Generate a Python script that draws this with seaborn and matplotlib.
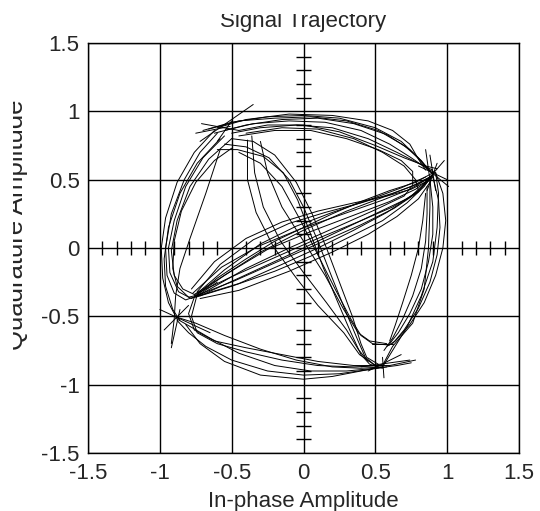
import numpy as np
import pandas as pd
import matplotlib
matplotlib.use("Agg")
import matplotlib.pyplot as plt
from matplotlib.patches import Rectangle
import seaborn as sns

sns.set_theme(style="white")
plt.rcParams['font.family'] = ['Liberation Sans', 'DejaVu Sans']

title = "Signal Trajectory"
xlabel = "In-phase Amplitude"
ylabel = "Quadrature Amplitude"
major_ticks = [-1.5, -1.0, -0.5, 0.0, 0.5, 1.0, 1.5]
tick_labels = ["-1.5", "-1", "-0.5", "0", "0.5", "1", "1.5"]

# Trajectory strokes, (in-phase, quadrature)
top_arc = [
    [(-0.70, 0.86), (-0.5, 0.92), (-0.25, 0.96), (0.0, 0.97), (0.25, 0.95), (0.5, 0.88), (0.68, 0.78), (0.80, 0.66), (0.88, 0.56)],
    [(-0.62, 0.84), (-0.4, 0.90), (-0.15, 0.94), (0.1, 0.95), (0.35, 0.91), (0.58, 0.83), (0.74, 0.72), (0.83, 0.62), (0.90, 0.54)],
    [(-0.55, 0.86), (-0.35, 0.91), (-0.1, 0.93), (0.15, 0.92), (0.4, 0.86), (0.6, 0.76), (0.75, 0.66), (0.86, 0.58), (0.92, 0.55)],
    [(-0.5, 0.84), (-0.3, 0.88), (-0.05, 0.9), (0.2, 0.88), (0.45, 0.8), (0.65, 0.7), (0.8, 0.62), (0.9, 0.57)],
    [(-0.45, 0.86), (-0.25, 0.9), (0.0, 0.9), (0.25, 0.85), (0.5, 0.75), (0.7, 0.66), (0.85, 0.6), (0.93, 0.58)],
    [(-0.6, 0.88), (-0.4, 0.94), (-0.1, 0.98), (0.2, 0.97), (0.45, 0.93), (0.62, 0.86), (0.74, 0.76), (0.8, 0.65), (0.85, 0.57)],
    [(-0.66, 0.87), (-0.45, 0.93), (-0.2, 0.95), (0.05, 0.96), (0.3, 0.93), (0.52, 0.86), (0.7, 0.75), (0.82, 0.64), (0.89, 0.55)],
    [(-0.45, 0.82), (-0.2, 0.86), (0.05, 0.86), (0.3, 0.8), (0.52, 0.72), (0.68, 0.64), (0.76, 0.56), (0.76, 0.46),
     (0.7, 0.38), (0.5, 0.28), (0.2, 0.14), (-0.1, 0.0), (-0.4, -0.15), (-0.65, -0.3), (-0.75, -0.36)],
    [(-0.4, 0.84), (-0.15, 0.88), (0.1, 0.87), (0.35, 0.8), (0.55, 0.7), (0.7, 0.6), (0.78, 0.5), (0.8, 0.42),
     (0.72, 0.36), (0.5, 0.25), (0.2, 0.1), (-0.1, -0.05), (-0.45, -0.22), (-0.72, -0.35)],
]

band = [
    [(-0.76, -0.36), (-0.6, -0.22), (-0.4, -0.08), (-0.2, 0.05), (0.0, 0.15), (0.2, 0.25), (0.4, 0.34), (0.6, 0.42), (0.78, 0.48), (0.9, 0.55)],
    [(-0.74, -0.34), (-0.55, -0.2), (-0.3, -0.03), (0.0, 0.13), (0.3, 0.27), (0.55, 0.37), (0.75, 0.45), (0.88, 0.52)],
    [(-0.76, -0.35), (-0.55, -0.16), (-0.3, 0.03), (-0.05, 0.16), (0.2, 0.26), (0.45, 0.35), (0.68, 0.44), (0.85, 0.52)],
    [(-0.74, -0.32), (-0.58, -0.12), (-0.35, 0.06), (-0.1, 0.18), (0.15, 0.26), (0.4, 0.33), (0.62, 0.4), (0.8, 0.47), (0.9, 0.53)],
    [(-0.75, -0.36), (-0.5, -0.28), (-0.2, -0.17), (0.05, -0.06), (0.3, 0.07), (0.55, 0.2), (0.72, 0.33), (0.84, 0.45), (0.9, 0.54)],
    [(-0.73, -0.35), (-0.45, -0.26), (-0.15, -0.12), (0.1, 0.0), (0.35, 0.13), (0.58, 0.26), (0.75, 0.38), (0.87, 0.5)],
    [(-0.74, -0.33), (-0.5, -0.21), (-0.2, -0.07), (0.1, 0.07), (0.4, 0.2), (0.62, 0.3), (0.78, 0.4), (0.88, 0.5)],
    [(-0.76, -0.34), (-0.52, -0.18), (-0.25, -0.01), (0.05, 0.12), (0.35, 0.24), (0.6, 0.34), (0.78, 0.43), (0.9, 0.52)],
    [(-0.72, -0.37), (-0.45, -0.31), (-0.1, -0.17), (0.2, -0.03), (0.45, 0.1), (0.65, 0.23), (0.8, 0.36), (0.88, 0.48)],
    [(-0.78, -0.3), (-0.62, -0.1), (-0.4, 0.07), (-0.15, 0.19), (0.1, 0.27), (0.35, 0.33), (0.58, 0.38), (0.75, 0.43), (0.88, 0.5)],
    [(-0.75, -0.35), (-0.48, -0.24), (-0.18, -0.1), (0.12, 0.04), (0.4, 0.17), (0.63, 0.29), (0.8, 0.41), (0.89, 0.53)],
    [(-0.77, -0.33), (-0.57, -0.14), (-0.32, 0.01), (-0.02, 0.14), (0.28, 0.25), (0.55, 0.35), (0.74, 0.43), (0.87, 0.51)],
]

left_arc = [
    [(-0.6, 0.84), (-0.72, 0.7), (-0.83, 0.5), (-0.92, 0.25), (-0.96, 0.0), (-0.95, -0.2), (-0.9, -0.33), (-0.82, -0.38), (-0.74, -0.35), (-0.6, -0.25)],
    [(-0.55, 0.82), (-0.7, 0.66), (-0.82, 0.45), (-0.9, 0.2), (-0.94, 0.0), (-0.93, -0.18), (-0.87, -0.32), (-0.78, -0.37), (-0.7, -0.33)],
    [(-0.5, 0.8), (-0.66, 0.65), (-0.79, 0.45), (-0.88, 0.2), (-0.92, -0.02), (-0.9, -0.2), (-0.84, -0.3), (-0.76, -0.34)],
    [(-0.62, 0.86), (-0.76, 0.7), (-0.88, 0.48), (-0.96, 0.22), (-0.99, 0.0), (-0.98, -0.22), (-0.94, -0.4), (-0.88, -0.52)],
    [(-0.58, 0.8), (-0.74, 0.62), (-0.86, 0.4), (-0.94, 0.15), (-0.97, -0.08), (-0.96, -0.28), (-0.91, -0.45), (-0.86, -0.53)],
    [(-0.5, 0.73), (-0.62, 0.64), (-0.75, 0.48), (-0.85, 0.27), (-0.9, 0.05), (-0.91, -0.15), (-0.88, -0.28), (-0.8, -0.36), (-0.72, -0.34)],
    [(-0.58, 0.72), (-0.68, 0.4), (-0.79, 0.07), (-0.86, -0.15), (-0.89, -0.35), (-0.9, -0.52), (-0.92, -0.7)],
]

lens = [
    [(-0.6, 0.72), (-0.46, 0.72), (-0.28, 0.67), (-0.14, 0.55), (-0.04, 0.35), (0.05, 0.1), (0.14, -0.15), (0.24, -0.4), (0.33, -0.62), (0.4, -0.78), (0.46, -0.85), (0.55, -0.88)],
    [(-0.55, 0.76), (-0.4, 0.74), (-0.24, 0.66), (-0.1, 0.5), (0.0, 0.3), (0.1, 0.05), (0.2, -0.22), (0.3, -0.48), (0.38, -0.68), (0.43, -0.8), (0.5, -0.86)],
    [(-0.5, 0.8), (-0.35, 0.78), (-0.2, 0.68), (-0.05, 0.48), (0.06, 0.25), (0.16, 0.0), (0.25, -0.25), (0.34, -0.5), (0.4, -0.7), (0.44, -0.8), (0.52, -0.85)],
    [(-0.39, 0.79), (-0.39, 0.5), (-0.33, 0.26), (-0.21, 0.01), (-0.05, -0.22), (0.1, -0.42), (0.28, -0.62), (0.39, -0.78), (0.5, -0.86)],
    [(-0.36, 0.82), (-0.34, 0.55), (-0.28, 0.3), (-0.16, 0.05), (0.0, -0.18), (0.16, -0.4), (0.3, -0.6), (0.38, -0.74), (0.45, -0.83)],
    [(-0.45, 0.7), (-0.3, 0.62), (-0.15, 0.45), (-0.02, 0.2), (0.1, -0.05), (0.22, -0.3), (0.33, -0.52), (0.4, -0.64), (0.48, -0.7), (0.6, -0.71)],
    [(-0.3, 0.78), (-0.25, 0.55), (-0.15, 0.3), (0.0, 0.05), (0.15, -0.2), (0.28, -0.45), (0.38, -0.62), (0.46, -0.68), (0.58, -0.7)],
]

right_arc = [
    [(0.92, 0.55), (0.97, 0.4), (0.99, 0.2), (0.97, 0.0), (0.92, -0.2), (0.84, -0.4), (0.74, -0.56), (0.64, -0.68), (0.58, -0.72)],
    [(0.9, 0.52), (0.94, 0.35), (0.95, 0.15), (0.93, -0.05), (0.88, -0.25), (0.8, -0.44), (0.7, -0.6), (0.62, -0.7)],
    [(0.88, 0.5), (0.9, 0.3), (0.9, 0.1), (0.87, -0.1), (0.82, -0.3), (0.74, -0.48), (0.66, -0.62), (0.6, -0.7)],
    [(0.86, 0.45), (0.86, 0.25), (0.85, 0.05), (0.82, -0.15), (0.76, -0.35), (0.69, -0.52), (0.62, -0.66), (0.56, -0.75)],
    [(0.85, 0.4), (0.83, 0.2), (0.8, 0.0), (0.75, -0.2), (0.69, -0.4), (0.64, -0.56), (0.6, -0.68)],
    [(0.88, 0.52), (0.88, 0.3), (0.87, 0.0), (0.84, -0.3), (0.76, -0.55), (0.62, -0.72), (0.55, -0.86)],
    [(0.55, -0.87), (0.62, -0.75), (0.72, -0.58), (0.82, -0.35), (0.9, -0.1), (0.93, 0.15), (0.94, 0.4), (0.92, 0.55)],
]

bottom_arc = [
    [(-0.88, -0.52), (-0.78, -0.58), (-0.65, -0.66), (-0.45, -0.77), (-0.2, -0.86), (0.05, -0.9), (0.3, -0.9), (0.5, -0.88), (0.65, -0.86), (0.75, -0.84)],
    [(-0.88, -0.53), (-0.8, -0.62), (-0.68, -0.72), (-0.5, -0.82), (-0.25, -0.9), (0.0, -0.93), (0.25, -0.92), (0.45, -0.89), (0.58, -0.87)],
    [(-0.82, -0.56), (-0.72, -0.7), (-0.55, -0.83), (-0.3, -0.93), (0.0, -0.96), (0.2, -0.94), (0.4, -0.9), (0.55, -0.87)],
    [(-0.74, -0.34), (-0.78, -0.5), (-0.74, -0.62), (-0.6, -0.7), (-0.4, -0.76), (-0.15, -0.82), (0.1, -0.86), (0.35, -0.87), (0.55, -0.86)],
    [(-0.76, -0.36), (-0.8, -0.48), (-0.76, -0.6), (-0.62, -0.68), (-0.4, -0.73), (-0.15, -0.78), (0.1, -0.83), (0.35, -0.86), (0.6, -0.86), (0.78, -0.82)],
    [(-0.9, -0.5), (-0.75, -0.55), (-0.55, -0.64), (-0.3, -0.74), (-0.05, -0.82), (0.2, -0.87), (0.4, -0.88), (0.55, -0.87)],
]

stars = [
    [(0.84, 0.47), (0.98, 0.64)], [(0.88, 0.68), (0.92, 0.42)], [(0.8, 0.6), (1.0, 0.5)],
    [(0.85, 0.72), (0.88, 0.5)], [(0.93, 0.62), (0.86, 0.42)], [(0.86, 0.58), (1.01, 0.45)],
    [(-0.72, 0.78), (-0.35, 1.05)], [(-0.75, 0.84), (-0.51, 0.89)], [(-0.71, 0.91), (-0.45, 0.86)],
    [(-0.6, 0.78), (-0.5, 0.93)],
    [(-1.0, -0.45), (-0.65, -0.62)], [(-0.92, -0.73), (-0.86, -0.45)], [(-0.97, -0.6), (-0.8, -0.42)],
    [(0.4, -0.87), (0.74, -0.82)], [(0.55, -0.8), (0.56, -0.95)], [(0.45, -0.9), (0.68, -0.78)],
    [(0.48, -0.7), (0.62, -0.7)],
]

families = [top_arc, band, left_arc, lens, right_arc, bottom_arc, stars]
rows = []
sid = 0
for fam in families:
    for stroke in fam:
        for k, (xi, yq) in enumerate(stroke):
            rows.append({"stroke": sid, "order": k, "I": xi, "Q": yq})
        sid += 1
df = pd.DataFrame(rows)

fig = plt.figure(figsize=(5.4, 5.11), dpi=100)
ax = fig.add_axes([88 / 540, 1 - 453 / 511, 431 / 540, 410 / 511])

sns.lineplot(data=df, x="I", y="Q", units="stroke", estimator=None, sort=False,
             color="black", linewidth=0.7, ax=ax, legend=False)

ax.set_xlim(-1.5, 1.5)
ax.set_ylim(-1.5, 1.5)
ax.set_xticks(major_ticks)
ax.set_yticks(major_ticks)
ax.set_xticklabels(tick_labels, fontsize=16)
ax.set_yticklabels(tick_labels, fontsize=16)
ax.tick_params(axis="y", length=0, pad=6)
ax.tick_params(axis="x", length=0, pad=7)
ax.grid(True, color="black", linewidth=1.0)
ax.set_axisbelow(True)
for s in ax.spines.values():
    s.set_color("black")
    s.set_linewidth(1.0)
ax.set_xlabel("")
ax.set_ylabel("")

# center crosshair minor ticks every 0.1
minor = [m / 10 for m in range(-14, 15) if m % 5 != 0]
ax.vlines(minor, -0.05, 0.05, color="black", linewidth=1.0, zorder=1)
ax.hlines(minor, -0.052, 0.052, color="black", linewidth=1.0, zorder=1)

fig.text(303 / 540, 1 - 27 / 511, title, ha="center", va="baseline", fontsize=16)
fig.text(303 / 540, 1 - 507 / 511, xlabel, ha="center", va="baseline", fontsize=16)
fig.text(23 / 540, 1 - 225 / 511, ylabel, ha="center", va="baseline", rotation=90,
         rotation_mode="anchor", fontsize=18.5)

# clipped margins as in the reference
fig.patches.append(Rectangle((0, 1 - 14 / 511), 1, 14 / 511, transform=fig.transFigure,
                             facecolor="white", edgecolor="none", zorder=10))
fig.patches.append(Rectangle((0, 0), 13 / 540, 1, transform=fig.transFigure,
                             facecolor="white", edgecolor="none", zorder=10))

fig.savefig("out.png", dpi=100)
